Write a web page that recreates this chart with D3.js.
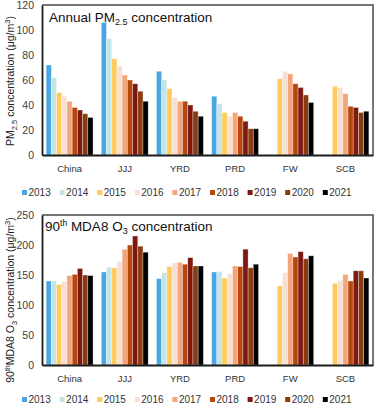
<!DOCTYPE html>
<html>
<head>
<meta charset="utf-8">
<script src="https://cdn.jsdelivr.net/npm/d3@7"></script>
<style>
  html, body { margin: 0; padding: 0; background: #fff; }
  svg { display: block; font-family: "Liberation Sans", Arial, sans-serif; }
</style>
</head>
<body>
<svg id="chart" width="375" height="406"></svg>
<script>
// ---- data ----
const categories = ["China", "JJJ", "YRD", "PRD", "FW", "SCB"];
const years = ["2013", "2014", "2015", "2016", "2017", "2018", "2019", "2020", "2021"];
const yearColors = ["#4aa5e2", "#c4e5e8", "#ffcb5c", "#f8dfd3", "#f4a67a", "#b6470d", "#7d1911", "#8a3c10", "#000000"];

// Annual PM2.5 (μg/m3), one row per region, one value per year (null = not shown)
const pm25Values = [
  [72, 62, 50, 47, 43, 38, 36, 33, 30],        // China
  [106, 93, 77, 71, 64, 60, 57, 51, 43],       // JJJ
  [67, 60, 53, 46, 43, 43, 40, 35, 31],        // YRD
  [47, 41, 34, 31, 34, 31, 27, 21, 21],        // PRD
  [null, null, 61, 67, 65, 57, 54, 48, 42],    // FW
  [null, null, 55, 54, 49, 39, 38, 34, 35]     // SCB
];
// 90th MDA8 O3 (μg/m3)
const o3Values = [
  [140, 140, 134, 139, 149, 151, 161, 150, 149], // China
  [155, 163, 162, 172, 193, 200, 215, 198, 188], // JJJ
  [144, 154, 164, 170, 171, 168, 179, 165, 165], // YRD
  [155, 156, 145, 152, 165, 164, 193, 162, 168], // PRD
  [null, null, 132, 154, 186, 180, 189, 177, 182], // FW
  [null, null, 136, 141, 151, 140, 157, 157, 145]  // SCB
];
const pm25Ticks = [0, 20, 40, 60, 80, 100, 120];
const o3Ticks = [0, 50, 100, 150, 200, 250];

// ---- drawing ----
const svg = d3.select("#chart");
const left = 42, right = 373;

const x0 = d3.scaleBand().domain(categories).range([left, right])
  .paddingInner(0.15).paddingOuter(0.075);
const x1 = d3.scaleBand().domain(years).range([0, x0.bandwidth()]).padding(0);
const color = d3.scaleOrdinal().domain(years).range(yearColors);

function panel(cfg) {
  const y = d3.scaleLinear().domain([0, cfg.max]).range([cfg.bottom, cfg.top]);
  const g = svg.append("g");

  // bars
  cfg.values.forEach((row, ci) => {
    row.forEach((v, yi) => {
      if (v == null) return;
      g.append("rect")
        .attr("x", x0(categories[ci]) + x1(years[yi]))
        .attr("y", y(v))
        .attr("width", x1.bandwidth())
        .attr("height", y(0) - y(v))
        .attr("fill", color(years[yi]))
        .attr("stroke", "rgba(255,255,255,0.45)")
        .attr("stroke-width", 0.7);
    });
  });

  // frame top/right
  g.append("path")
    .attr("d", `M${left},${cfg.top}H${right}V${cfg.bottom}`)
    .attr("fill", "none").attr("stroke", "#4a4a4a").attr("stroke-width", 1.5);

  // y axis
  const ya = g.append("g").attr("transform", `translate(${left},0)`)
    .call(d3.axisLeft(y).tickValues(cfg.ticks).tickSize(0).tickSizeOuter(0).tickPadding(8));
  ya.select(".domain").attr("stroke", "#1a1a1a").attr("stroke-width", 1.8);
  ya.selectAll("text").attr("font-size", 10.5).attr("fill", "#404040")
    .attr("font-family", "'Liberation Sans', Arial, sans-serif");

  // x axis
  const xa = g.append("g").attr("transform", `translate(0,${cfg.bottom})`)
    .call(d3.axisBottom(x0).tickSize(0).tickSizeOuter(0).tickPadding(10));
  xa.select(".domain").attr("stroke", "#1a1a1a").attr("stroke-width", 1.8);
  xa.selectAll("text").attr("font-size", 9.5).attr("fill", "#333")
    .attr("font-family", "'Liberation Sans', Arial, sans-serif");

  // title inside plot
  cfg.title(g.append("text").attr("x", cfg.titleX).attr("y", cfg.titleY)
    .attr("font-size", 13.5).attr("fill", "#111"));

  // y title
  cfg.ytitle(g.append("text")
    .attr("transform", `translate(${cfg.ytX},${cfg.ytY}) rotate(-90)`)
    .attr("text-anchor", "middle").attr("font-size", 10.5).attr("fill", "#222"));

  // legend
  const lg = g.append("g");
  years.forEach((yr, i) => {
    const lx = 22 + i * 37.6;
    lg.append("rect").attr("x", lx).attr("y", cfg.legendY - 2.5)
      .attr("width", 5).attr("height", 5).attr("fill", color(yr));
    lg.append("text").attr("x", lx + 6.5).attr("y", cfg.legendY + 3.5)
      .attr("font-size", 10).attr("fill", "#333").text(yr);
  });
}

panel({
  values: pm25Values, max: 120, ticks: pm25Ticks, top: 5, bottom: 155,
  titleX: 49, titleY: 21.5,
  title: t => {
    t.append("tspan").text("Annual PM");
    t.append("tspan").attr("font-size", 9).attr("dy", 3).text("2.5");
    t.append("tspan").attr("dy", -3).text(" concentration");
  },
  ytX: 14, ytY: 81,
  ytitle: t => {
    t.append("tspan").text("PM");
    t.append("tspan").attr("font-size", 7.5).attr("dy", 2.5).text("2.5");
    t.append("tspan").attr("dy", -2.5).text(" concentration (μg/m");
    t.append("tspan").attr("font-size", 7.5).attr("dy", -4).text("3");
    t.append("tspan").attr("dy", 4).text(")");
  },
  legendY: 192.5
});

panel({
  values: o3Values, max: 250, ticks: o3Ticks, top: 215, bottom: 365,
  titleX: 45, titleY: 230.5,
  title: t => {
    t.append("tspan").text("90");
    t.append("tspan").attr("font-size", 8.5).attr("dy", -5).text("th");
    t.append("tspan").attr("dy", 5).text(" MDA8 O");
    t.append("tspan").attr("font-size", 9).attr("dy", 3).text("3");
    t.append("tspan").attr("dy", -3).text(" concentration");
  },
  ytX: 14, ytY: 300,
  ytitle: t => {
    t.append("tspan").text("90");
    t.append("tspan").attr("font-size", 7).attr("dy", -4).text("th");
    t.append("tspan").attr("dy", 4).text("MDA8 O");
    t.append("tspan").attr("font-size", 7.5).attr("dy", 2.5).text("3");
    t.append("tspan").attr("dy", -2.5).text(" concentration (μg/m");
    t.append("tspan").attr("font-size", 7.5).attr("dy", -4).text("3");
    t.append("tspan").attr("dy", 4).text(")");
  },
  legendY: 399.5
});
</script>
</body>
</html>
